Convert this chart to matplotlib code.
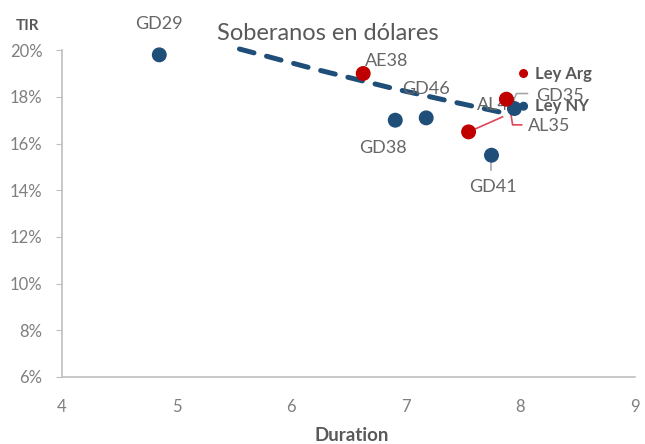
import matplotlib
matplotlib.use("Agg")
import matplotlib.pyplot as plt
from matplotlib import transforms as mtransforms

plt.rcParams['font.family'] = ['Lato', 'DejaVu Sans']

# bonds: duration vs TIR (%)
bonds = ["GD29", "GD38", "GD46", "GD41", "GD35", "AE38", "AL35", "AL41"]
duration = [4.85, 6.91, 7.18, 7.75, 7.95, 6.63, 7.55, 7.88]
tir = [19.8, 17.0, 17.1, 15.5, 17.5, 19.0, 16.5, 17.9]
ley = ["NY", "NY", "NY", "NY", "NY", "Arg", "Arg", "Arg"]

# legend markers drawn inside the plot
legend_names = ["Ley Arg", "Ley NY"]
legend_x = [8.03, 8.03]
legend_y = [19.0, 17.6]

# dashed trend line
trend_x = [5.55, 6.2, 6.9, 7.4, 7.87]
trend_y = [20.05, 19.2, 18.35, 17.8, 17.3]

xticks = [4, 5, 6, 7, 8, 9]
yticks = [6, 8, 10, 12, 14, 16, 18, 20]

blue = "#1f4e79"
red = "#c00000"
gray_txt = "#666666"
axis_col = "#bfbfbf"

fig = plt.figure(figsize=(6.45, 4.44), dpi=100)
ax = fig.add_axes([0.096, 0.151, 0.888, 0.736])
ax.set_xlim(4, 9)
ax.set_ylim(6, 20)

ax.plot(trend_x, trend_y, color=blue, lw=3.6, dashes=(3, 2.6),
        solid_capstyle='round', dash_capstyle='round', zorder=1, clip_on=False)

colors = [blue if l == "NY" else red for l in ley]
ax.scatter(duration, tir, s=95, c=colors, zorder=4, clip_on=False)
ax.scatter(legend_x, legend_y, s=30, c=[red, blue], zorder=4)
for name, lx, ly in zip(legend_names, legend_x, legend_y):
    ax.annotate(name, (lx, ly), xytext=(8, 0), textcoords='offset points',
                ha='left', va='center', fontsize=12, fontweight='bold',
                color="#595959", zorder=2)

# label offsets in points
offsets = {
    "GD29": (0, 22), "GD38": (-9, -20), "GD46": (0, 21), "GD41": (1, -23),
    "GD35": (33, 9), "AE38": (17, 9), "AL35": (58, 4), "AL41": (-6, -4),
}
for name, x, y in zip(bonds, duration, tir):
    ax.annotate(name, (x, y), xytext=offsets[name], textcoords='offset points',
                ha='center', va='center', fontsize=13, color=gray_txt, zorder=2)


def leader(x, y, pts_px, color):
    tr = fig.dpi_scale_trans + mtransforms.ScaledTranslation(x, y, ax.transData)
    xs = [p[0] / 100 for p in pts_px]
    ys = [p[1] / 100 for p in pts_px]
    ax.plot(xs, ys, transform=tr, color=color, lw=1.2, zorder=3, clip_on=False)


i35 = bonds.index("AL35")
leader(duration[i35], tir[i35], [(0, 0), (34, 15)], "#e0455a")
leader(duration[i35], tir[i35], [(41, 27), (44, 7), (53, 7)], "#e0455a")
i41 = bonds.index("GD41")
leader(duration[i41], tir[i41], [(0, -7), (0, -15)], "#a6a6a6")
igd35 = bonds.index("GD35")
leader(duration[igd35], tir[igd35], [(0, 10), (2, 15), (13, 15)], "#a6a6a6")

ax.set_xticks(xticks)
ax.set_yticks(yticks)
ax.set_yticklabels([f"{v}%" for v in yticks])
for s in ["top", "right"]:
    ax.spines[s].set_visible(False)
for s in ["left", "bottom"]:
    ax.spines[s].set_color(axis_col)
    ax.spines[s].set_linewidth(1.2)
ax.tick_params(axis='y', length=4, color=axis_col, pad=10, labelsize=12,
               labelcolor="#7f7f7f")
ax.tick_params(axis='x', length=0, pad=16, labelsize=12, labelcolor="#7f7f7f")

fig.text(328 / 645, 1 - 33 / 444, "Soberanos en dólares", ha='center', va='center',
         fontsize=17, color="#595959")
fig.text(27 / 645, 1 - 26 / 444, "TIR", ha='center', va='center',
         fontsize=11, fontweight='bold', color="#595959")
fig.text(352 / 645, 1 - 435 / 444, "Duration", ha='center', va='center',
         fontsize=13.5, fontweight='bold', color="#595959")

fig.savefig("out.png", dpi=100)
